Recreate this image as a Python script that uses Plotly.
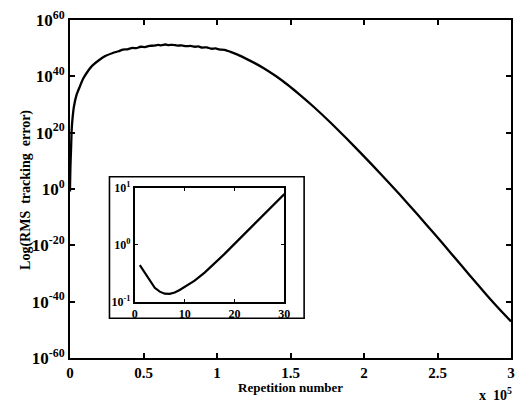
import plotly.graph_objects as go

# Main curve: repetition number vs log10 of RMS tracking error
reps = [0, 6, 30, 300, 700, 1140, 1800, 2690, 4500, 6700, 9000, 11200,
        15000, 20100, 24000, 29100, 33000, 36000, 39000, 42500, 45000, 48000,
        51000, 54000, 57000, 60000, 62000, 64900, 67000, 70000, 73000, 76000,
        79000, 82000, 85000, 87300, 90000, 93000, 96000, 99000, 102000, 105000,
        109700, 114000, 120000, 126000, 132100, 140000, 147800, 156000, 165700,
        176800, 188000, 200000, 212000, 224000, 236000, 248000, 260000, 272000,
        284000, 292000, 300000]
log_err = [-0.36, -0.87, 0.89, 8, 14, 21.0, 25.5, 29.3, 33.5, 36.4, 39.2, 41.1,
           43.7, 45.9, 47.2, 48.3, 48.9, 49.5, 49.6, 50.1, 50.0, 50.5,
           50.4, 50.8, 50.9, 51.2, 51.0, 51.3, 51.1, 51.2, 50.9, 51.0,
           50.7, 50.8, 50.5, 50.6, 50.2, 50.3, 49.8, 49.9, 49.5, 49.4,
           48.6, 47.7, 46.2, 44.6, 42.8, 40.1, 37.1, 33.6, 29.2,
           23.8, 18.0, 11.6, 5.0, -1.8, -8.8, -16.0, -23.3, -30.7,
           -38.0, -42.6, -47.0]
rms_err = [10.0 ** v for v in log_err]

# Inset: first 30 repetitions
inset_iter = [1, 2, 3, 4, 5, 6, 7, 8, 9, 10, 12, 14, 16, 18, 20, 22, 24, 26, 28, 30]
inset_err = [0.44, 0.32, 0.235, 0.175, 0.15, 0.138, 0.137, 0.145, 0.16, 0.18,
             0.234, 0.324, 0.468, 0.69, 1.035, 1.55, 2.32, 3.47, 5.19, 7.76]

main_yticks = [-60, -40, -20, 0, 20, 40, 60]
main_xticks = [0, 50000, 100000, 150000, 200000, 250000, 300000]
main_xtext = ["0", "0.5", "1", "1.5", "2", "2.5", "3"]
inset_yticks = [-1, 0, 1]
inset_xticks = [0, 10, 20, 30]

FONT = "Liberation Serif"

fig = go.Figure()
fig.add_trace(go.Scatter(x=reps, y=rms_err, mode="lines",
                         line=dict(color="black", width=2.3, shape="spline", smoothing=0.6),
                         xaxis="x", yaxis="y", showlegend=False))
fig.add_trace(go.Scatter(x=inset_iter, y=inset_err, mode="lines",
                         line=dict(color="black", width=2.2),
                         xaxis="x2", yaxis="y2", showlegend=False))

axis_common = dict(showline=True, linecolor="black", linewidth=2, mirror="ticks",
                   ticks="inside", tickcolor="black", showgrid=False, zeroline=False)

fig.update_layout(
    width=524, height=402,
    margin=dict(l=70, r=7, t=20, b=44),
    paper_bgcolor="white", plot_bgcolor="rgba(0,0,0,0)",
    font=dict(family=FONT, color="black"),
    xaxis=dict(range=[0, 300000], domain=[0, 1], tickvals=main_xticks,
               ticktext=main_xtext, ticklen=5, tickwidth=1.5,
               tickfont=dict(family=FONT, size=15, weight="bold"),
               **axis_common),
    yaxis=dict(type="log", range=[-60, 60], domain=[0, 1],
               tickvals=[10.0 ** k for k in main_yticks],
               ticktext=["10<sup>%d</sup>" % k for k in main_yticks],
               ticklen=5, tickwidth=1.5,
               tickfont=dict(family=FONT, size=17, weight="bold"),
               **axis_common),
    xaxis2=dict(range=[0, 30], domain=[0.147, 0.4861], anchor="y2",
                tickvals=inset_xticks, ticklen=3, tickwidth=1,
                tickfont=dict(family=FONT, size=12, weight="bold"),
                **axis_common),
    yaxis2=dict(type="log", range=[-1, 1], domain=[0.1666, 0.5038], anchor="x2",
                tickvals=[10.0 ** k for k in inset_yticks],
                ticktext=["10<sup>%d</sup>" % k for k in inset_yticks],
                ticklen=3, tickwidth=1,
                tickfont=dict(family=FONT, size=12, weight="bold"),
                **axis_common),
    shapes=[dict(type="rect", xref="paper", yref="paper",
                 x0=0.0895, x1=0.5309, y0=0.1175, y1=0.5364,
                 line=dict(color="black", width=1.6), layer="above")],
    annotations=[
        dict(text="Repetition number", xref="paper", yref="paper",
             x=0.5, y=-0.087, xanchor="center", yanchor="middle",
             showarrow=False, font=dict(family=FONT, size=13, weight="bold")),
        dict(text="Log(RMS  tracking  error)", xref="paper", yref="paper",
             x=-0.1, y=0.497, xanchor="center", yanchor="middle", textangle=-90,
             showarrow=False, font=dict(family=FONT, size=14, weight="bold")),
        dict(text="x  10<sup>5</sup>", xref="paper", yref="paper",
             x=1.007, y=-0.106, xanchor="right", yanchor="middle",
             showarrow=False, font=dict(family=FONT, size=14, weight="bold")),
    ],
)

fig.write_html("out.html")
